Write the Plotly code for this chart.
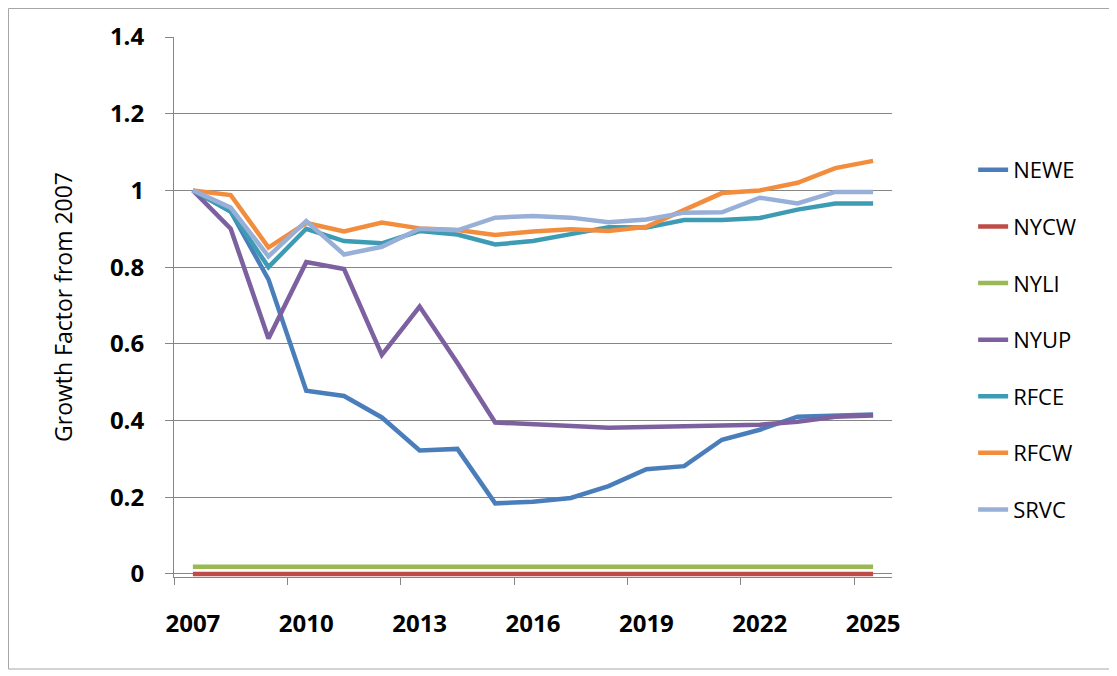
import plotly.graph_objects as go

years = list(range(2007, 2026))

NEWE = [1.0, 0.945, 0.768, 0.478, 0.464, 0.408, 0.322, 0.326, 0.184, 0.188, 0.198, 0.229,
        0.273, 0.281, 0.35, 0.376, 0.41, 0.414, 0.416]
NYCW = [0.0] * 19
NYLI = [0.019] * 19
NYUP = [1.0, 0.9, 0.614, 0.813, 0.795, 0.571, 0.697, 0.55, 0.395, 0.39, 0.386, 0.381,
        0.383, 0.385, 0.385, 0.389, 0.397, 0.41, 0.413]
RFCE = [1.0, 0.945, 0.8, 0.9, 0.868, 0.862, 0.894, 0.885, 0.859, 0.868, 0.886, 0.904,
        0.903, 0.923, 0.923, 0.928, 0.95, 0.966, 0.966]
RFCW = [1.0, 0.988, 0.851, 0.915, 0.893, 0.916, 0.901, 0.897, 0.884, 0.893, 0.899, 0.894,
        0.905, 0.948, 0.993, 1.0, 1.02, 1.058, 1.077]
SRVC = [1.0, 0.955, 0.828, 0.92, 0.833, 0.853, 0.9, 0.896, 0.929, 0.933, 0.929, 0.917,
        0.924, 0.942, 0.943, 0.981, 0.966, 0.996, 0.996]

series = [("NEWE", NEWE, "#4A7EBB"), ("NYCW", NYCW, "#BE4B48"), ("NYLI", NYLI, "#98B954"),
          ("NYUP", NYUP, "#7D60A0"), ("RFCE", RFCE, "#3D9CB4"), ("RFCW", RFCW, "#F38D3E"),
          ("SRVC", SRVC, "#98AFD8")]

xtick_vals = list(range(2007, 2026, 3))
ytick_vals = [0, 0.2, 0.4, 0.6, 0.8, 1.0, 1.2, 1.4]
ytick_text = ["0", "0.2", "0.4", "0.6", "0.8", "1", "1.2", "1.4"]

fig = go.Figure()
for name, vals, col in series:
    fig.add_trace(go.Scatter(x=years, y=vals, name=name, mode="lines",
                             line=dict(color=col, width=4.5), legendgroup=name))

axis_gray = "#868686"
# page body has an 8px margin, so the figure is shifted by 8px
L, T, PW, PH = 166, 29, 718, 540
W, H = 1109, 668
YMIN = -0.008
fig.update_layout(
    width=W, height=H,
    margin=dict(l=L, r=W - L - PW, t=T, b=H - T - PH),
    paper_bgcolor="white", plot_bgcolor="white",
    font=dict(family="Open Sans", color="black"),
    showlegend=True,
    legend=dict(x=1.113, y=0.7925, xanchor="left", yanchor="top",
                font=dict(size=22, family="Open Sans"),
                tracegroupgap=25, bgcolor="rgba(0,0,0,0)"),
    xaxis=dict(range=[2006.5, 2025.5], tickmode="array", tickvals=xtick_vals,
               ticktext=[str(v) for v in xtick_vals], ticks="", showgrid=False,
               showline=True, linecolor=axis_gray, linewidth=1, zeroline=False,
               tickfont=dict(size=24, family="Open Sans", weight="bold"),
               ticklabelstandoff=25,
               minor=dict(tickmode="array", tickvals=[2006.5 + 3 * k for k in range(7)],
                          ticks="outside", ticklen=7, tickcolor=axis_gray, showgrid=False)),
    yaxis=dict(range=[YMIN, 1.4], tickmode="array", tickvals=ytick_vals, ticktext=ytick_text,
               ticks="outside", ticklen=8, tickcolor=axis_gray,
               showgrid=True, gridcolor=axis_gray, gridwidth=1,
               showline=True, linecolor=axis_gray, linewidth=1, zeroline=False,
               tickfont=dict(size=24, family="Open Sans", weight="bold"),
               ticklabelstandoff=16,
               title=dict(text="Growth Factor from 2007", font=dict(size=23, family="Open Sans"),
                          standoff=30)),
    shapes=[dict(type="rect", xref="paper", yref="paper",
                 x0=(0.5 - L) / PW, x1=(1102 - L) / PW,
                 y0=1 - (661 - T) / PH, y1=1 - (0.5 - T) / PH,
                 line=dict(color="#A6A6A6", width=1), fillcolor="rgba(0,0,0,0)", layer="below")],
)

fig.write_html("out.html")
